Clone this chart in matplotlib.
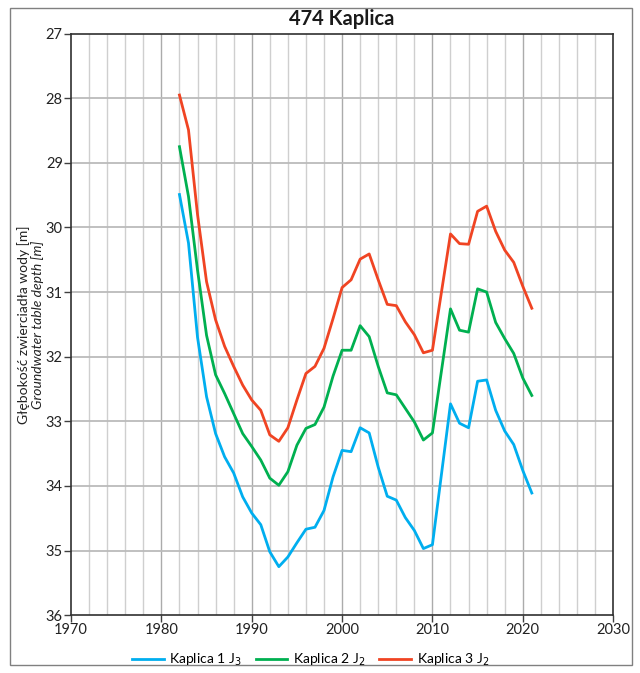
import matplotlib
matplotlib.use('Agg')
import matplotlib.pyplot as plt
from matplotlib.patches import Rectangle

plt.rcParams['font.family'] = ['Lato', 'DejaVu Sans']

years = [1982, 1983, 1984, 1985, 1986, 1987, 1988, 1989, 1990, 1991,
	1992, 1993, 1994, 1995, 1996, 1997, 1998, 1999, 2000, 2001,
	2002, 2003, 2004, 2005, 2006, 2007, 2008, 2009, 2010,
	2012, 2013, 2014, 2015, 2016, 2017, 2018, 2019, 2020, 2021]

kaplica1 = [29.49, 30.24, 31.70, 32.62, 33.19, 33.55, 33.80, 34.17, 34.42, 34.60,
	35.02, 35.25, 35.10, 34.88, 34.67, 34.64, 34.38, 33.86, 33.45, 33.47,
	33.10, 33.18, 33.71, 34.16, 34.22, 34.49, 34.69, 34.97, 34.91,
	32.73, 33.03, 33.10, 32.38, 32.36, 32.83, 33.15, 33.36, 33.76, 34.11]

kaplica2 = [28.75, 29.52, 30.66, 31.67, 32.28, 32.57, 32.88, 33.19, 33.39, 33.60,
	33.88, 33.99, 33.78, 33.37, 33.11, 33.05, 32.78, 32.30, 31.90, 31.90,
	31.52, 31.69, 32.15, 32.56, 32.59, 32.80, 33.01, 33.29, 33.18,
	31.26, 31.59, 31.62, 30.95, 31.00, 31.47, 31.72, 31.95, 32.33, 32.60]

kaplica3 = [27.95, 28.49, 29.80, 30.84, 31.43, 31.84, 32.15, 32.44, 32.67, 32.83,
	33.21, 33.31, 33.10, 32.67, 32.26, 32.15, 31.87, 31.41, 30.93, 30.81,
	30.49, 30.41, 30.81, 31.19, 31.21, 31.46, 31.66, 31.94, 31.90,
	30.10, 30.25, 30.26, 29.75, 29.67, 30.06, 30.35, 30.54, 30.91, 31.25]

labels = ['Kaplica 1 J$_3$', 'Kaplica 2 J$_2$', 'Kaplica 3 J$_2$']
colors = ['#00AEEF', '#00B050', '#F04423']
xticks = list(range(1970, 2031, 10))
yticks = list(range(27, 37))

fig = plt.figure(figsize=(6.4, 6.73), dpi=100)
ax = fig.add_axes([0.111, 0.086, 0.847, 0.864])

# grid: light every 2 years, darker every 10
for yr in range(1972, 2030, 2):
	c = '#ABABAB' if yr % 10 == 0 else '#CFCFCF'
	ax.axvline(yr, color=c, lw=1.0, zorder=0)
for d in yticks[1:-1]:
	ax.axhline(d, color='#BBBBBB', lw=1.3, zorder=0)

for vals, lab, col in zip([kaplica1, kaplica2, kaplica3], labels, colors):
	ax.plot(years, vals, color=col, lw=2.0, label=lab, zorder=3)

ax.set_xlim(1970, 2030)
ax.set_ylim(36, 27)
ax.set_xticks(xticks)
ax.set_yticks(yticks)
ax.tick_params(axis='both', direction='out', length=5, width=1, color='#404040',
	labelsize=10.5, labelcolor='#222222', pad=1)
for s in ax.spines.values():
	s.set_color('#303030')
	s.set_linewidth(1.2)

ax.set_title('474 Kaplica', fontsize=14.5, fontweight='bold', color='#1a1a1a', pad=6)

ax.text(-0.088, 0.5, 'Głębokość zwierciadła wody [m]', transform=ax.transAxes,
	rotation=90, ha='center', va='center', fontsize=10, color='#222222')
ax.text(-0.061, 0.5, 'Groundwater table depth [m]', transform=ax.transAxes,
	rotation=90, ha='center', va='center', fontsize=10, style='italic', color='#222222')

fig.legend(loc='center', bbox_to_anchor=(0.485, 0.019), ncol=3, frameon=False,
	fontsize=10, handlelength=2.3, columnspacing=1.0, handletextpad=0.4)

fig.patches.append(Rectangle((0.016, 0.012), 0.972, 0.976, transform=fig.transFigure,
	fill=False, edgecolor='#808080', lw=1.0))

plt.savefig('out.png', dpi=100)
